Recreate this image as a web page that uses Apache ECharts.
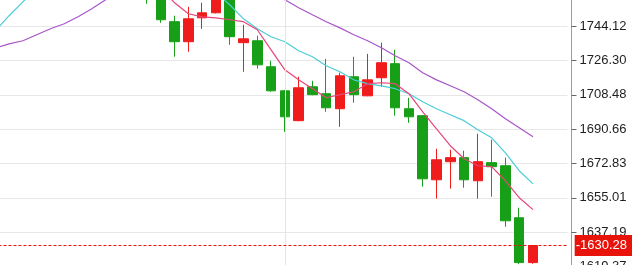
<!DOCTYPE html>
<html>
<head>
<meta charset="utf-8">
<style>html,body{margin:0;padding:0;background:#fff;}#c{width:632px;height:265px;}</style>
<script src="https://cdn.jsdelivr.net/npm/echarts@6/dist/echarts.min.js"></script>
</head>
<body>
<div id="c"></div>
<script>
// hourly categories (index 21 = start of day)
const categories = ['03:00','04:00','05:00','06:00','07:00','08:00','09:00','10:00','11:00','12:00',
  '13:00','14:00','15:00','16:00','17:00','18:00','19:00','20:00','21:00','22:00','23:00',
  '00:00','01:00','02:00','03:00 ','04:00 ','05:00 ','06:00 ','07:00 ','08:00 ','09:00 ',
  '10:00 ','11:00 ','12:00 ','13:00 ','14:00 ','15:00 ','16:00 ','17:00 ','18:00 ','19:00 ','20:00 '];

// [open, close, low, high]
const ohlc = [
  [1762, 1768, 1760, 1771],
  [1768, 1774, 1765, 1777],
  [1774, 1771, 1767, 1779],
  [1771, 1779, 1769, 1783],
  [1779, 1785, 1775, 1789],
  [1785, 1781, 1777, 1790],
  [1781, 1788, 1778, 1792],
  [1788, 1784, 1779, 1793],
  [1784, 1779, 1773, 1789],
  [1779, 1774, 1768, 1782],
  [1774, 1768, 1763, 1777],
  [1768, 1760, 1755.8, 1771],
  [1760, 1747.5, 1745.9, 1762],
  [1746.5, 1736.1, 1728.3, 1749.6],
  [1736.1, 1748.0, 1730.9, 1754.2],
  [1748.5, 1751.1, 1742.8, 1756.3],
  [1751.1, 1762, 1750.8, 1765],
  [1762, 1738.7, 1734.5, 1764],
  [1735.6, 1737.6, 1720.5, 1744.9],
  [1736.6, 1724.1, 1722.1, 1739.2],
  [1723.1, 1710.6, 1710.1, 1726.2],
  [1710.6, 1697.1, 1689.3, 1711.1],
  [1695.1, 1712.2, 1694.8, 1717.9],
  [1712.7, 1708.6, 1708.3, 1715.8],
  [1709.1, 1701.8, 1699.7, 1727.2],
  [1701.3, 1718.4, 1691.9, 1720.0],
  [1717.9, 1708.6, 1704.4, 1728.3],
  [1708.0, 1716.3, 1707.8, 1729.8],
  [1717.4, 1725.2, 1712.7, 1735.6],
  [1724.7, 1701.8, 1697.7, 1731.9],
  [1701.3, 1697.1, 1694.0, 1707.0],
  [1697.7, 1664.9, 1660.8, 1697.9],
  [1664.4, 1674.8, 1654.6, 1680.5],
  [1673.8, 1675.9, 1659.8, 1680.0],
  [1675.9, 1664.4, 1660.3, 1679.5],
  [1663.9, 1673.8, 1654.6, 1688.3],
  [1673.3, 1671.2, 1655.6, 1685.2],
  [1671.7, 1643.1, 1640.0, 1675.9],
  [1644.7, 1621.4, 1620.6, 1649.9],
  [1621.4, 1630.28, 1620.8, 1630.28]
];

const maFast = [null,null,null,null,null,null,null,null,1780,1778,1775,1770,1764,
  1756.3,1750.6,1749.0,1748.5,1747.5,1746.5,1742.3,1731.9,1721.5,1716.3,1711.7,1707.0,
  1708.6,1710.1,1714.3,1714.8,1714.3,1709.1,1699.7,1690.9,1682.1,1675.3,1671.7,1671.2,
  1663.9,1655.1,1648.9];
const maMid = [1741.8,1749.6,1756.8,1764.1,1770,1774,1777,1779,1780,1780,1779,1777,1774,
  1771,1768,1765,1761.5,1755.3,1748.0,1742.8,1738.7,1736.1,1731.4,1728.3,1723.6,1720.5,
  1716.3,1714.3,1713.2,1711.7,1709.1,1704.9,1701.3,1698.2,1695.1,1690.4,1686.2,1678.4,
  1669.1,1662.3];
const maSlow = [1732.9,1735.0,1736.6,1739.7,1742.8,1745.4,1749.1,1753.2,1757.9,1762.0,
  1765,1767,1768.5,1769,1769,1768.5,1767.5,1766,1764,1762,1761.8,1757.9,1753.7,1750.1,
  1746.5,1743.3,1739.7,1736.6,1733.0,1728.8,1725.2,1720.0,1716.3,1713.2,1710.1,1706.0,
  1701.3,1696.1,1691.4,1686.7];

const yTicks = [1619.37, 1637.19, 1655.01, 1672.83, 1690.66, 1708.48, 1726.30, 1744.12, 1761.94];
const lastPrice = 1630.28;
const dayStart = '00:00';

const FONT = 'Liberation Sans';
const RED_LINE = '#f01010';
const chart = echarts.init(document.getElementById('c'), null, {renderer: 'canvas'});
chart.setOption({
  animation: false,
  backgroundColor: '#ffffff',
  grid: {left: -11.54, right: 64.53, top: -8.05, bottom: -1.51, containLabel: false,
    outerBoundsMode: 'none'},
  xAxis: {
    type: 'category', data: categories, boundaryGap: true,
    axisLine: {show: false}, axisTick: {show: false}, axisLabel: {show: false},
    splitLine: {show: false}
  },
  yAxis: {
    type: 'value', position: 'right', scale: true, offset: 4,
    min: yTicks[0], max: yTicks[yTicks.length - 1],
    interval: (yTicks[yTicks.length - 1] - yTicks[0]) / (yTicks.length - 1),
    axisLine: {show: true, lineStyle: {color: '#9c9c9c', width: 1}},
    axisTick: {show: true, length: 5, lineStyle: {color: '#666'}, customValues: yTicks},
    axisLabel: {customValues: yTicks, formatter: v => v.toFixed(2), color: '#1e1e1e',
      fontSize: 13, fontFamily: FONT, margin: 8},
    splitLine: {show: true, lineStyle: {color: '#e7e7e7', width: 1}},
    axisPointer: {
      show: true, type: 'line', value: lastPrice, status: 'show', snap: false,
      triggerTooltip: false, triggerEmphasis: false,
      lineStyle: {color: RED_LINE, type: [3, 2], width: 1},
      label: {show: true, formatter: p => '-' + Number(p.value).toFixed(2),
        color: '#ffffff', backgroundColor: '#e8140c', padding: [4, 5, 4, 1],
        fontSize: 13, fontFamily: FONT, margin: 3.5, borderRadius: 0, shadowBlur: 0}
    }
  },
  series: [
    {
      type: 'line', data: [], z: 1, silent: true,
      markLine: {silent: true, symbol: ['none', 'none'], animation: false,
        label: {show: false}, lineStyle: {color: '#e3e5ea', type: 'solid', width: 1},
        data: [{xAxis: dayStart}]}
    },
    {
      type: 'candlestick', data: ohlc, barWidth: 10, clip: true, z: 2,
      itemStyle: {color: '#f01c1c', color0: '#17a017', borderColor: '#f01c1c',
        borderColor0: '#17a017', borderWidth: 1}
    },
    {type: 'line', data: maSlow, symbol: 'none', smooth: false, z: 3,
      lineStyle: {color: '#a855c8', width: 1.2}},
    {type: 'line', data: maMid, symbol: 'none', smooth: false, z: 3,
      lineStyle: {color: '#4cccd6', width: 1.2}},
    {type: 'line', data: maFast, symbol: 'none', smooth: false, z: 3,
      lineStyle: {color: '#e8457a', width: 1.2}}
  ]
});
</script>
</body>
</html>
